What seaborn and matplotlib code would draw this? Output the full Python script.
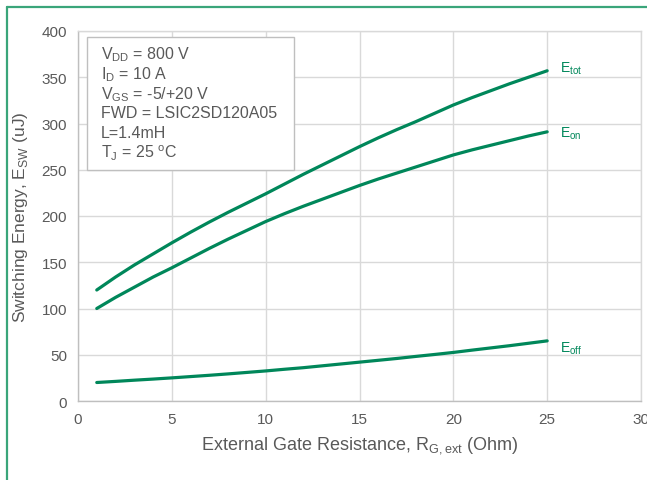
import matplotlib
matplotlib.use("Agg")
import matplotlib.pyplot as plt
import matplotlib.patches as mpatches
import pandas as pd
import seaborn as sns

# values
rg_ohm = list(range(1, 26))
e_tot = [120, 134, 147, 159, 171, 182.5, 193.5, 204, 214, 224, 234.5, 245, 255,
         265, 275, 284.5, 293.5, 302, 311, 320, 328, 335.5, 343, 350, 357]
e_on = [100, 112, 123, 134, 144, 154.5, 165, 175, 184.5, 194, 202.5, 210.5, 218,
        225.5, 233, 240, 246.5, 253, 259.5, 266, 271.5, 276.5, 281.5, 286.5, 291]
e_off = [20, 21.2, 22.5, 23.7, 25, 26.4, 27.8, 29.3, 30.9, 32.5, 34.3, 36, 38,
         40, 42, 44, 46, 48.2, 50.3, 52.5, 55, 57.4, 59.8, 62.4, 65]

curve_names = ["Etot", "Eon", "Eoff"]
curve_labels = [r"E$_{\rm tot}$", r"E$_{\rm on}$", r"E$_{\rm off}$"]
label_y = [360, 290, 57]

cond_lines = [r"V$_{\rm DD}$ = 800 V", r"I$_{\rm D}$ = 10 A", r"V$_{\rm GS}$ = -5/+20 V",
              "FWD = LSIC2SD120A05", "L=1.4mH", r"T$_{\rm J}$ = 25 $^{\rm o}$C"]

df = pd.DataFrame({"Rg": rg_ohm * 3,
                   "E": e_tot + e_on + e_off,
                   "curve": sum([[n] * len(rg_ohm) for n in curve_names], [])})

sns.set_style("white")
plt.rcParams["font.family"] = ["Liberation Sans", "DejaVu Sans"]
plt.rcParams["mathtext.fontset"] = "custom"
plt.rcParams["mathtext.rm"] = "Liberation Sans"

green = "#00875a"
gray_txt = "#595959"
grid_c = "#d9d9d9"

fig = plt.figure(figsize=(6.47, 4.81), dpi=100)
ax = fig.add_axes([78 / 647, 1 - 402 / 481, (641 - 78) / 647, (402 - 32) / 481])

sns.lineplot(data=df, x="Rg", y="E", hue="curve", palette=[green] * 3,
             legend=False, linewidth=2.3, ax=ax)

ax.set_xlim(0, 30)
ax.set_ylim(0, 400)
ax.set_xticks(range(0, 31, 5))
ax.set_yticks(range(0, 401, 50))
ax.grid(True, color=grid_c, linewidth=1.0)
ax.set_axisbelow(True)
for s in ax.spines.values():
    s.set_color(grid_c)
    s.set_linewidth(1.0)
ax.spines["bottom"].set_color("#bfbfbf")
ax.spines["left"].set_color("#bfbfbf")
ax.tick_params(length=0, pad=8, labelcolor=gray_txt, labelsize=11)

ax.set_xlabel(r"External Gate Resistance, R$_{\rm G,ext}$ (Ohm)", fontsize=13,
              color=gray_txt, labelpad=6)
ax.set_ylabel(r"Switching Energy, E$_{\rm SW}$ (uJ)", fontsize=12.5,
              color=gray_txt, labelpad=8)

for lab, yy in zip(curve_labels, label_y):
    ax.text(25.7, yy, lab, color=green, fontsize=10, va="center", ha="left")

# conditions box
box = mpatches.Rectangle((87 / 647, 1 - 171 / 481), (294 - 87) / 647, (171 - 38) / 481,
                         transform=fig.transFigure, facecolor="white",
                         edgecolor="#bfbfbf", linewidth=1.0, zorder=5)
fig.patches.append(box)
for i, line in enumerate(cond_lines):
    fig.text(101 / 647, 1 - (55 + i * 19.6) / 481, line, fontsize=11.5,
             color=gray_txt, va="center", ha="left", zorder=6)

# green frame on top and left edges
fig.add_artist(plt.Line2D([7 / 647, 7 / 647], [0, 1 - 8 / 481], transform=fig.transFigure,
                          color="#3aa57a", linewidth=1.6))
fig.add_artist(plt.Line2D([7 / 647, 1], [1 - 8 / 481, 1 - 8 / 481], transform=fig.transFigure,
                          color="#3aa57a", linewidth=1.6))

plt.savefig("out.png", dpi=100)
